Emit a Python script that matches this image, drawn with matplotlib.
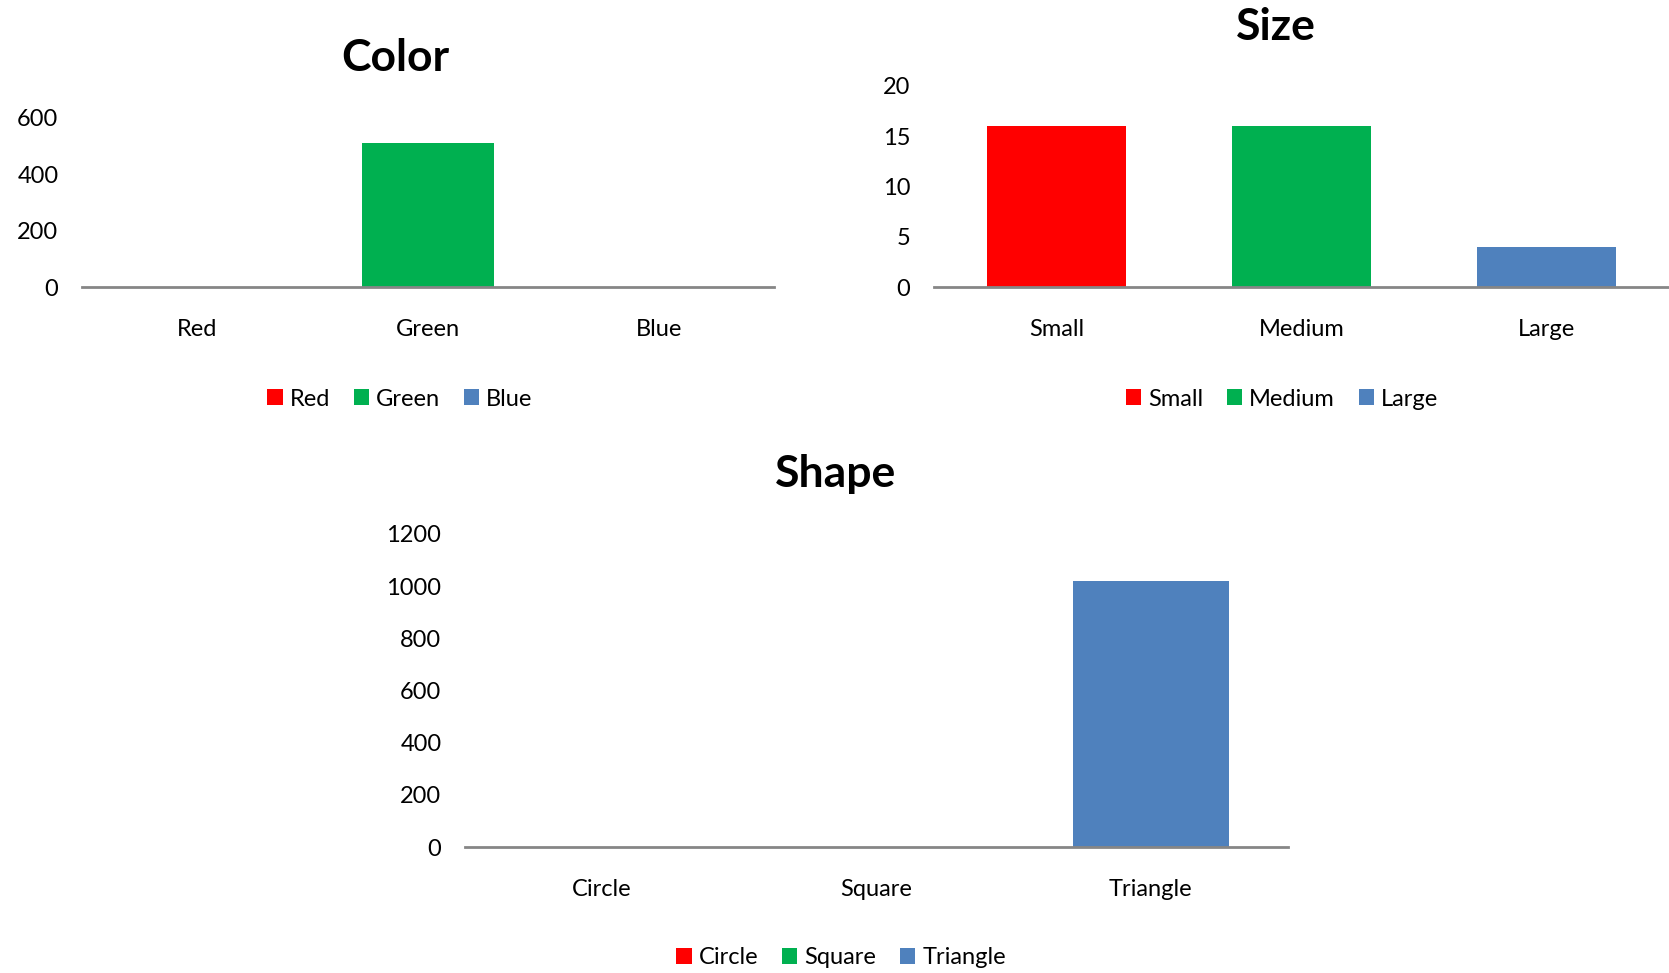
import matplotlib
matplotlib.use("Agg")
from matplotlib import pyplot as plt
from matplotlib.patches import Patch

plt.rcParams['font.family'] = ['Lato', 'DejaVu Sans']

# data
color_cats = ['Red', 'Green', 'Blue']
color_vals = [0, 510, 0]
size_cats = ['Small', 'Medium', 'Large']
size_vals = [16, 16, 4]
shape_cats = ['Circle', 'Square', 'Triangle']
shape_vals = [0, 0, 1020]

bar_colors = ['#FF0000', '#00B050', '#4F81BD']
axis_gray = '#868686'

W, H = 1669, 973
fig = plt.figure(figsize=(W / 100, H / 100), dpi=100)


def px_axes(x0, x1, y_bottom, y_top):
    # pixel box -> figure fraction
    return fig.add_axes([x0 / W, 1 - y_bottom / H, (x1 - x0) / W, (y_bottom - y_top) / H])


def bar_panel(ax, cats, vals, ymax, step, title, title_xy, legend_xy):
    x = range(len(cats))
    ax.bar(x, vals, width=0.57, color=bar_colors, zorder=2)
    ax.set_xlim(-0.5, len(cats) - 0.5)
    ax.set_ylim(0, ymax)
    ax.set_yticks(range(0, ymax + 1, step))
    ax.set_xticks(list(x))
    ax.set_xticklabels(cats)
    for s in ['top', 'right', 'left']:
        ax.spines[s].set_visible(False)
    ax.spines['bottom'].set_color(axis_gray)
    ax.spines['bottom'].set_linewidth(2)
    ax.tick_params(axis='both', length=0, labelsize=17, colors='black')
    ax.tick_params(axis='y', pad=17)
    ax.tick_params(axis='x', pad=23)
    fig.text(title_xy[0] / W, 1 - title_xy[1] / H, title, ha='center', va='center',
             fontsize=32, fontweight='bold')
    handles = [Patch(facecolor=c, label=l) for c, l in zip(bar_colors, cats)]
    fig.legend(handles=handles, loc='center', ncol=3, frameon=False, fontsize=17,
               bbox_to_anchor=(legend_xy[0] / W, 1 - legend_xy[1] / H),
               handlelength=0.65, handleheight=0.65, handletextpad=0.3, columnspacing=1.0)


ax1 = px_axes(82, 774, 287, 118)
bar_panel(ax1, color_cats, color_vals, 600, 200, 'Color', (395, 58), (400, 399))

ax2 = px_axes(934, 1669, 287, 86)
bar_panel(ax2, size_cats, size_vals, 20, 5, 'Size', (1276, 27), (1282, 399))

ax3 = px_axes(465, 1288, 847, 534)
bar_panel(ax3, shape_cats, shape_vals, 1200, 200, 'Shape', (836, 474), (841, 958))

fig.savefig('out.png', dpi=100)
